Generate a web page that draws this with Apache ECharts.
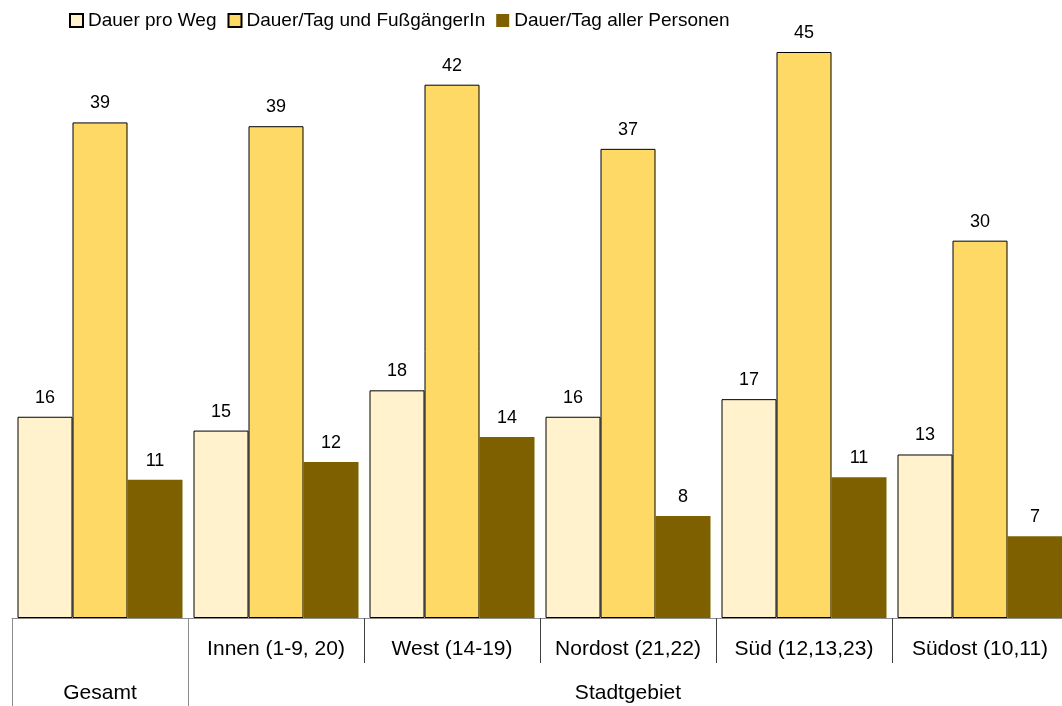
<!DOCTYPE html>
<html>
<head>
<meta charset="utf-8">
<script src="https://cdn.jsdelivr.net/npm/echarts@6/dist/echarts.min.js"></script>
<style>
html,body{margin:0;padding:0;background:#fff;}
#c{width:1062px;height:706px;}
</style>
</head>
<body>
<div id="c"></div>
<script>
const categories = ['', 'Innen (1-9, 20)', 'West (14-19)', 'Nordost (21,22)', 'Süd (12,13,23)', 'Südost (10,11)'];
const groupLabels = ['Gesamt', 'Stadtgebiet'];
const seriesNames = ['Dauer pro Weg', 'Dauer/Tag und FußgängerIn', 'Dauer/Tag aller Personen'];
const dauerProWeg = [16.0, 14.9, 18.1, 16.0, 17.4, 13.0];
const dauerTagFuss = [39.4, 39.1, 42.4, 37.3, 45.0, 30.0];
const dauerTagAlle = [11.0, 12.4, 14.4, 8.1, 11.2, 6.5];

const FONT = '"Liberation Sans", Arial, sans-serif';
const chart = echarts.init(document.getElementById('c'), null, {renderer: 'canvas'});

function barSeries(name, data, color, border) {
  return {
    name: name,
    type: 'bar',
    data: data,
    barWidth: 55,
    barGap: '0%',
    itemStyle: {
      color: color,
      borderColor: border ? '#000' : color,
      borderWidth: border ? 1 : 0
    },
    label: {
      show: true,
      position: 'top',
      distance: 10,
      color: '#000',
      fontFamily: FONT,
      fontSize: 18,
      formatter: p => Math.round(p.value)
    },
    emphasis: {disabled: true},
    animation: false
  };
}

chart.setOption({
  backgroundColor: '#fff',
  animation: false,
  legend: {
    left: 64,
    top: 6,
    itemWidth: 13,
    itemHeight: 13,
    itemGap: 11,
    icon: 'rect',
    textStyle: {fontFamily: FONT, fontSize: 19, color: '#000'},
    data: seriesNames
  },
  grid: {left: 12, width: 1056, top: 52, bottom: 88, containLabel: false, outerBoundsMode: 'none'},
  xAxis: [
    {
      type: 'category',
      data: categories,
      position: 'bottom',
      axisLine: {show: true, lineStyle: {color: '#8c8c8c', width: 1}},
      axisTick: {
        show: true,
        length: 45,
        interval: function (i) { return i >= 2; },
        lineStyle: {color: '#404040', width: 1}
      },
      axisLabel: {
        interval: 0,
        margin: 21,
        fontFamily: FONT,
        fontSize: 21,
        color: '#000'
      },
      splitLine: {show: false}
    },
    {
      type: 'value',
      min: 0,
      max: 6,
      position: 'bottom',
      axisLine: {show: false},
      splitLine: {show: false},
      axisTick: {
        show: true,
        customValues: [0, 1],
        length: 88,
        lineStyle: {color: '#8c8c8c', width: 1}
      },
      axisLabel: {
        show: true,
        customValues: [0.5, 3.5],
        margin: 65,
        fontFamily: FONT,
        fontSize: 21,
        color: '#000',
        formatter: v => (v < 1 ? groupLabels[0] : groupLabels[1])
      }
    }
  ],
  yAxis: {
    type: 'value',
    min: 0,
    max: 45,
    show: false,
    splitLine: {show: false}
  },
  series: [
    barSeries(seriesNames[0], dauerProWeg, '#FFF2CC', true),
    barSeries(seriesNames[1], dauerTagFuss, '#FFD966', true),
    barSeries(seriesNames[2], dauerTagAlle, '#7F6000', false)
  ]
});
</script>
</body>
</html>
